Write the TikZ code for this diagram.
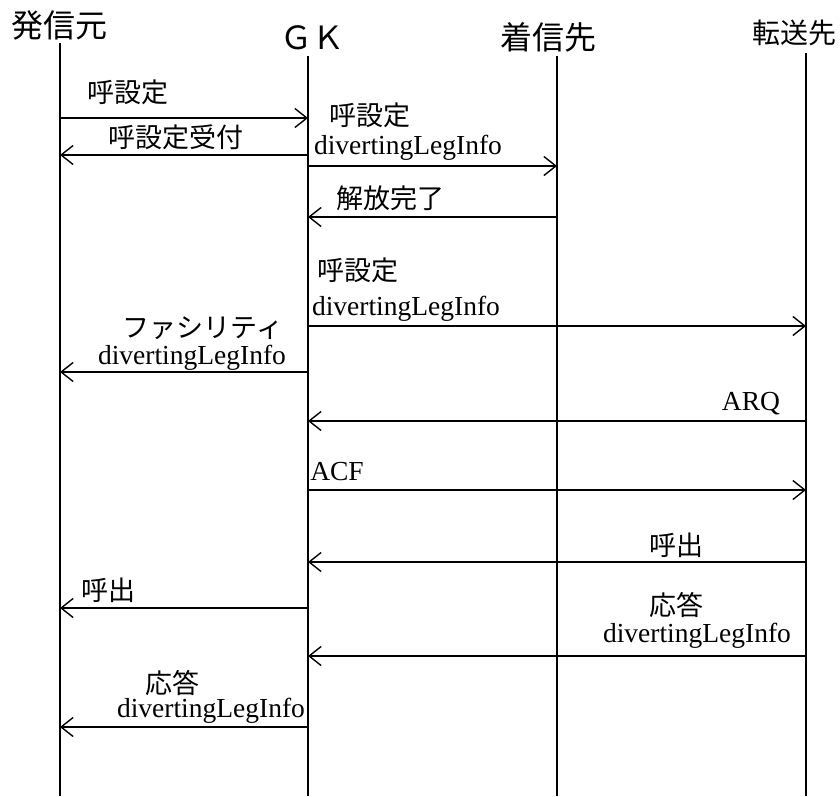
\documentclass[tikz,border=0pt]{standalone}
\usepackage{fontspec}
\setmainfont{Liberation Serif}
\newfontfamily\jpfont{Noto Sans CJK JP}
\usetikzlibrary{arrows.meta}

\begin{document}
\begin{tikzpicture}[
  x=1pt, y=-1pt,
  head/.style={font=\jpfont\fontsize{32}{34}\selectfont, inner sep=0pt},
  lbl/.style={font=\jpfont\fontsize{27}{29}\selectfont, inner sep=0pt},
  info/.style={font=\fontsize{27.5}{30}\selectfont, inner sep=0pt},
  life/.style={draw, line width=1.2pt},
  msg/.style={draw, line width=1.4pt, -{Straight Barb[length=12pt,width=19pt]}}
]
\useasboundingbox (0,0) rectangle (840,796);
% lifeline heads
\node[head] (src) at (60,25) {発信元};
\node[head] (gk) at (312,38) {ＧＫ};
\node[head] (dst) at (548,37) {着信先};
\node[head, font=\jpfont\fontsize{28}{30}\selectfont] (fwd) at (794,33) {転送先};
\coordinate (srcT) at (60,43);
\coordinate (gkT) at (308,56);
\coordinate (dstT) at (557,56);
\coordinate (fwdT) at (806,53);
\coordinate (bot) at (0,796);
\draw[life] (srcT) -- (srcT |- bot);
\draw[life] (gkT) -- (gkT |- bot);
\draw[life] (dstT) -- (dstT |- bot);
\draw[life] (fwdT) -- (fwdT |- bot);

% message rows
\coordinate (m1) at (0,118);
\coordinate (m2) at (0,155);
\coordinate (m3) at (0,166);
\coordinate (m4) at (0,217);
\coordinate (m5) at (0,326);
\coordinate (m6) at (0,372);
\coordinate (m7) at (0,421);
\coordinate (m8) at (0,490);
\coordinate (m9) at (0,562);
\coordinate (m10) at (0,608);
\coordinate (m11) at (0,656);
\coordinate (m12) at (0,727);

\draw[msg] (srcT |- m1) -- (gkT |- m1);
\node[lbl] (l1) at (128,92) {呼設定};

\draw[msg] (gkT |- m2) -- (srcT |- m2);
\node[lbl] (l2) at (176,137) {呼設定受付};

\draw[msg] (gkT |- m3) -- (dstT |- m3);
\node[lbl] (l3) at (370,115) {呼設定};
\node[info] (i3) at (408,148) {divertingLegInfo};

\draw[msg] (dstT |- m4) -- (gkT |- m4);
\node[lbl] (l4) at (390,198) {解放完了};

\draw[msg] (gkT |- m5) -- (fwdT |- m5);
\node[lbl] (l5) at (358,270) {呼設定};
\node[info] (i5) at (406,309) {divertingLegInfo};

\draw[msg] (gkT |- m6) -- (srcT |- m6);
\node[lbl] (l6) at (203,328) {ファシリティ};
\node[info] (i6) at (192,358) {divertingLegInfo};

\draw[msg] (fwdT |- m7) -- (gkT |- m7);
\node[info] (l7) at (751,404) {ARQ};

\draw[msg] (gkT |- m8) -- (fwdT |- m8);
\node[info] (l8) at (337,472) {ACF};

\draw[msg] (fwdT |- m9) -- (gkT |- m9);
\node[lbl] (l9) at (676,545) {呼出};

\draw[msg] (gkT |- m10) -- (srcT |- m10);
\node[lbl] (l10) at (108,590) {呼出};

\draw[msg] (fwdT |- m11) -- (gkT |- m11);
\node[lbl] (l11) at (676,605) {応答};
\node[info] (i11) at (697,636) {divertingLegInfo};

\draw[msg] (gkT |- m12) -- (srcT |- m12);
\node[lbl] (l12) at (172,683) {応答};
\node[info] (i12) at (211,711) {divertingLegInfo};
\end{tikzpicture}
\end{document}
